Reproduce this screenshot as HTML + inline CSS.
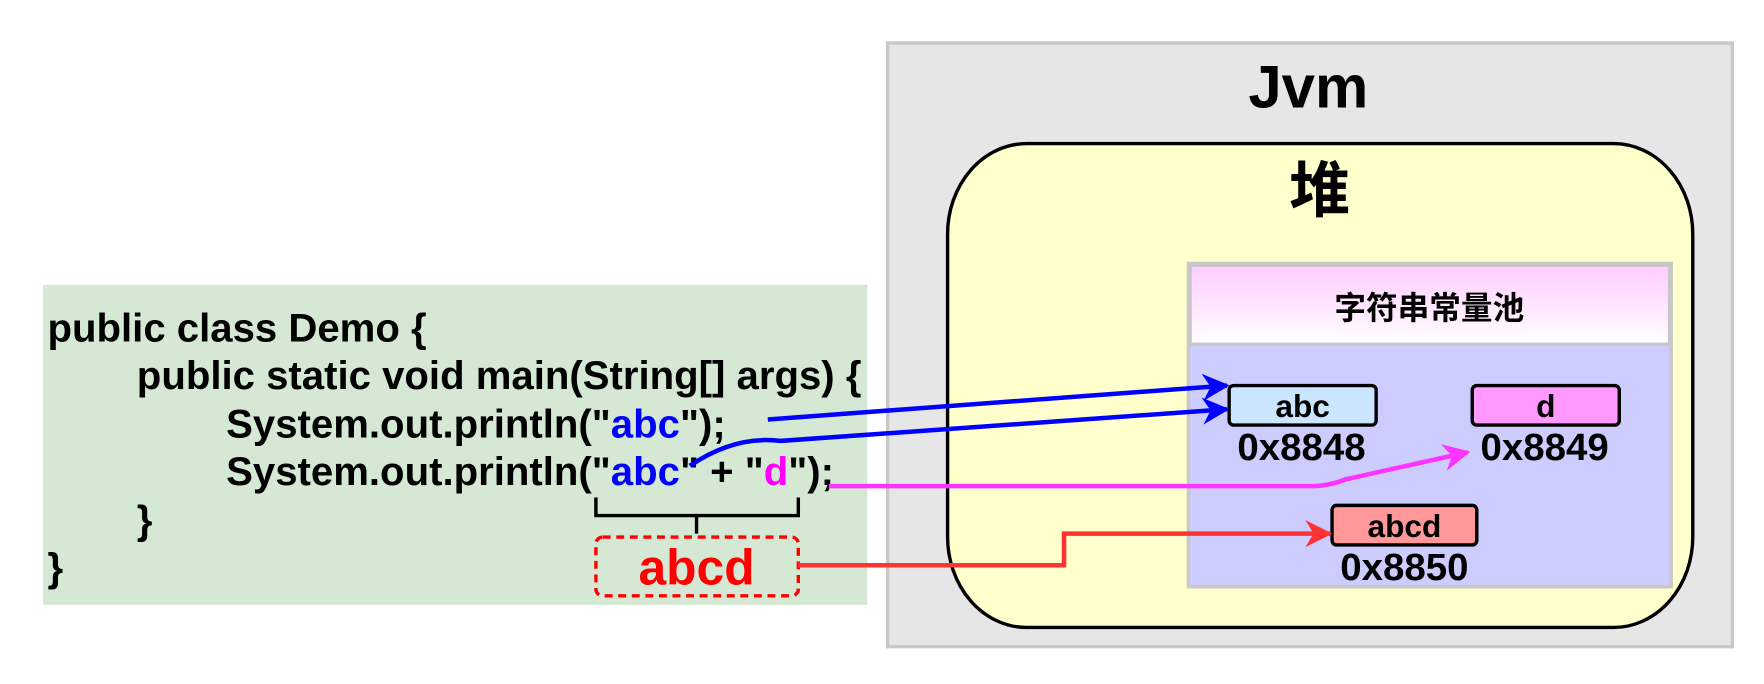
<!DOCTYPE html>
<html><head><meta charset="utf-8"><style>
html,body{margin:0;padding:0;background:#fff;width:1764px;height:684px;overflow:hidden}
svg{display:block}
text{font-family:"Liberation Sans","Noto Sans CJK SC",sans-serif;font-weight:bold}
</style></head><body>
<svg width="1764" height="684" viewBox="0 0 1560 605" preserveAspectRatio="none">
<defs>
<linearGradient id="hg" x1="0" y1="0" x2="0" y2="1"><stop offset="0" stop-color="#ffccff"/><stop offset="1" stop-color="#ffffff"/></linearGradient>
<marker id="am" viewBox="0 0 10 10" markerWidth="24" markerHeight="24" refX="9" refY="5" orient="auto" markerUnits="userSpaceOnUse"><path d="M0,0 L10,5 L0,10 L3,5 Z" fill="#ff33ff"/></marker>
<marker id="ab2" viewBox="0 0 10 10" markerWidth="24" markerHeight="24" refX="9" refY="5" orient="auto" markerUnits="userSpaceOnUse"><path d="M0,0 L10,5 L0,10 L3,5 Z" fill="#0000ff"/></marker>
<marker id="ar" viewBox="0 0 10 10" markerWidth="24" markerHeight="24" refX="9" refY="5" orient="auto" markerUnits="userSpaceOnUse"><path d="M0,0 L10,5 L0,10 L3,5 Z" fill="#ff3333"/></marker>
</defs>
<g>
<rect x="785" y="38" width="747" height="534" fill="#e6e6e6" stroke="#c8c8c8" stroke-width="3"/>
<text x="1157" y="95" font-size="53" text-anchor="middle">Jvm</text>
</g>
<g>
<rect x="838" y="127" width="659" height="428" rx="70" ry="80" fill="#ffffcc" stroke="#000" stroke-width="3"/>
<text x="1167" y="187" font-size="54" text-anchor="middle">堆</text>
</g>
<g>
<rect x="1051" y="233" width="427" height="286" fill="#ccccff" stroke="#c8c8c8" stroke-width="3"/>
<rect x="1052.5" y="234.5" width="424" height="70" fill="url(#hg)" stroke="#c8c8c8" stroke-width="3"/>
<text x="1264" y="282" font-size="28" text-anchor="middle">字符串常量池</text>
</g>
<g>
<rect x="1087" y="341" width="130" height="35" rx="4" fill="#cce5ff" stroke="#000" stroke-width="3"/>
<text x="1152" y="369" font-size="28" text-anchor="middle">abc</text>
<text x="1151" y="407" font-size="34" text-anchor="middle">0x8848</text>
</g>
<g>
<rect x="1302" y="341" width="130" height="35" rx="4" fill="#ff99ff" stroke="#000" stroke-width="3"/>
<text x="1367" y="369" font-size="28" text-anchor="middle">d</text>
<text x="1366" y="407" font-size="34" text-anchor="middle">0x8849</text>
</g>
<g>
<rect x="1178" y="447" width="128" height="35" rx="4" fill="#ff9999" stroke="#000" stroke-width="3"/>
<text x="1242" y="475" font-size="28" text-anchor="middle">abcd</text>
<text x="1242" y="513" font-size="34" text-anchor="middle">0x8850</text>
</g>
<g>
<rect x="38" y="252" width="729" height="283" fill="#d5e8d4"/>
<text x="42" y="302" font-size="35.5">public class Demo {</text>
<text x="121" y="344" font-size="35.5">public static void main(String[] args) {</text>
<text x="200" y="387" font-size="35.5">System.out.println("<tspan fill="#0000ff">abc</tspan>");</text>
<text x="200" y="429" font-size="35.5">System.out.println("<tspan fill="#0000ff">abc</tspan>" + "<tspan fill="#ff00ff">d</tspan>");</text>
<text x="121" y="472" font-size="35.5">}</text>
<text x="42" y="514" font-size="35.5">}</text>
</g>
<path d="M527,440 V456 H706 V440 M616,456 V472" fill="none" stroke="#000" stroke-width="3"/>
<g>
<rect x="527" y="475" width="179" height="52" rx="6" fill="none" stroke="#ff0000" stroke-width="3" stroke-dasharray="7,5"/>
<text x="616" y="517" font-size="44" fill="#ff0000" text-anchor="middle">abcd</text>
</g>
<path d="M679,371 L1085,341" fill="none" stroke="#0000ff" stroke-width="4" marker-end="url(#ab2)"/>
<path d="M610,412 Q650,385 690,390 L1085,362" fill="none" stroke="#0000ff" stroke-width="4" marker-end="url(#ab2)"/>
<path d="M733,430 L1160,430 Q1175,430 1190,424 L1298,400" fill="none" stroke="#ff33ff" stroke-width="4" marker-end="url(#am)"/>
<path d="M706,500 H941 V472 H1176" fill="none" stroke="#ff3333" stroke-width="4" marker-end="url(#ar)"/>
</svg>
</body></html>
